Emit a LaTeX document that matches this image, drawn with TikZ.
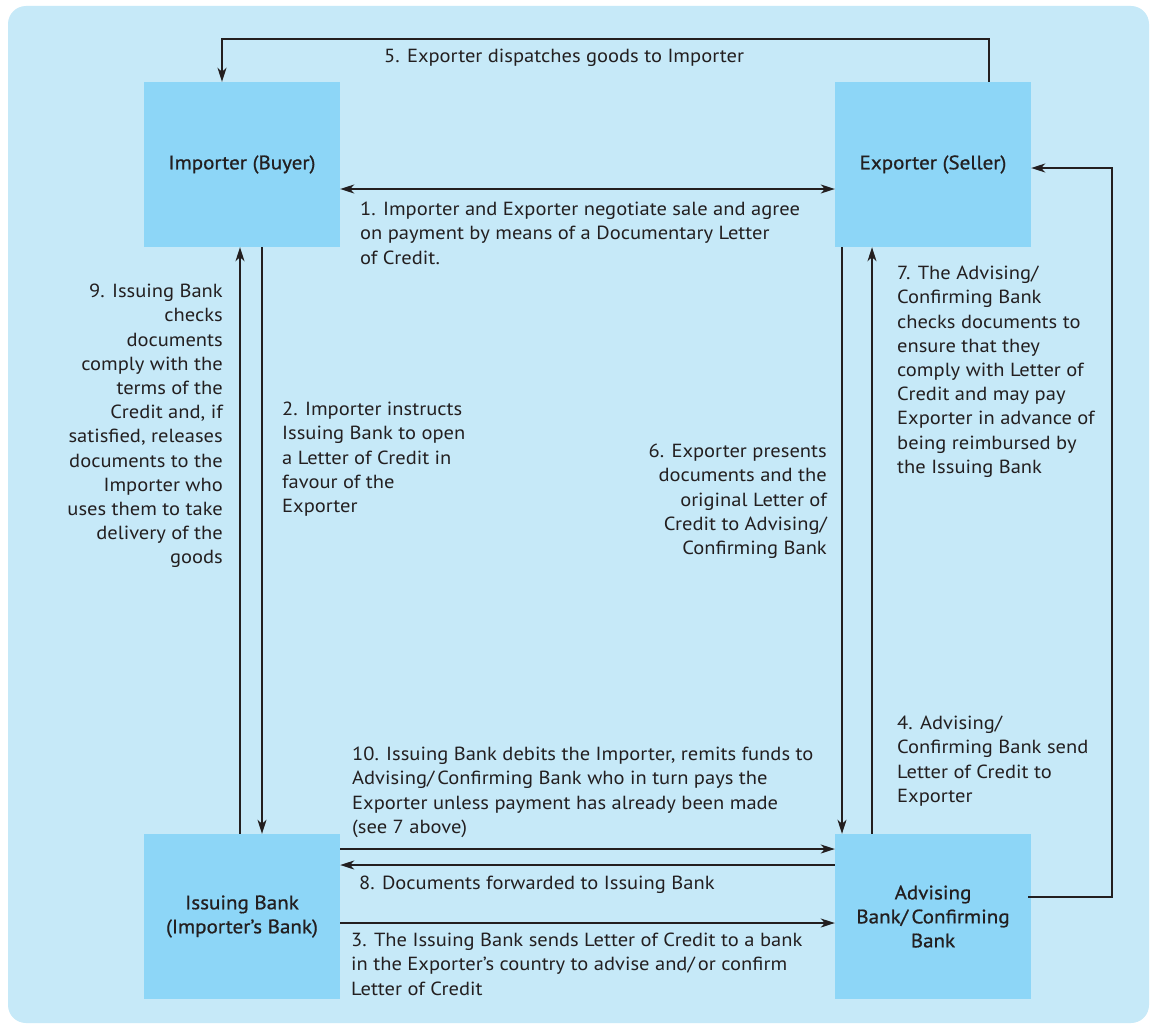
\documentclass[tikz,border=0pt]{standalone}
\usepackage{fontspec}
\setmainfont{PT Sans}[FakeStretch=1.08]
\newfontfamily\boxfont{PT Sans}[FakeStretch=1.08,FakeBold=0.8]
\usetikzlibrary{arrows.meta}
\definecolor{bgblue}{HTML}{C6E9F8}
\definecolor{boxblue}{HTML}{8DD6F7}
\definecolor{ink}{HTML}{231F20}
\tikzset{
  box/.style={fill=boxblue, minimum width=196pt, minimum height=165pt, inner sep=0pt,
    align=center, text=ink, font=\boxfont\fontsize{19.5}{24}\selectfont},
  lbl/.style={inner sep=0pt, text=ink, font=\fontsize{19}{24.2}\selectfont},
  lblL/.style={lbl, align=left, anchor=north west},
  lblR/.style={lbl, align=right, anchor=north east},
  conn/.style={draw=ink, line width=1.4pt, -{Stealth[length=14pt,width=9pt,inset=4pt]}},
  conn2/.style={draw=ink, line width=1.4pt, {Stealth[length=14pt,width=9pt,inset=4pt]}-{Stealth[length=14pt,width=9pt,inset=4pt]}}
}
\begin{document}
\begin{tikzpicture}[x=1pt,y=-1pt]
\useasboundingbox (0,0) rectangle (1151,1025);
\fill[white] (0,0) rectangle (1151,1025);
\fill[bgblue, rounded corners=18pt] (8,6) rectangle (1149,1023);

\node[box] (imp) at (242,164.5) {Importer (Buyer)};
\node[box] (exp) at (933,164.5) {Exporter (Seller)};
\node[box] (iss) at (242,916.5) {Issuing Bank\\(Importer’s Bank)};
\node[box] (adv) at (933,916.5) {Advising\\Bank/\,Confirming\\Bank};

% coordinates for connector routing
\coordinate (p5a) at (989,39);
\coordinate (p5b) at (222,39);
\coordinate (y1) at (0,189);
\coordinate (x2) at (262,0);
\coordinate (x9) at (240,0);
\coordinate (x6) at (842,0);
\coordinate (x7) at (872,0);
\coordinate (y10) at (0,849);
\coordinate (y8) at (0,865);
\coordinate (y3) at (0,923);
\coordinate (p4a) at (1112,897);
\coordinate (p4b) at (1112,168);

\draw[conn] (exp.north -| p5a) -- (p5a) -- (p5b) -- (imp.north -| p5b);
\draw[conn2] (imp.east |- y1) -- (exp.west |- y1);
\draw[conn] (imp.south -| x2) -- (iss.north -| x2);
\draw[conn] (iss.north -| x9) -- (imp.south -| x9);
\draw[conn] (exp.south -| x6) -- (adv.north -| x6);
\draw[conn] (adv.north -| x7) -- (exp.south -| x7);
\draw[conn] (iss.east |- y10) -- (adv.west |- y10);
\draw[conn] (adv.west |- y8) -- (iss.east |- y8);
\draw[conn] (iss.east |- y3) -- (adv.west |- y3);
\draw[conn] ([xshift=-3pt]adv.east |- p4a) -- (p4a) -- (p4b) -- (exp.east |- p4b);

\node[lblL] (l5) at (384,49) {5. Exporter dispatches goods to Importer};
\node[lblL] (l1) at (360,202) {1. Importer and Exporter negotiate sale and agree\\on payment by means of a Documentary Letter\\of Credit.};
\node[lblL] (l2) at (282,402) {2. Importer instructs\\Issuing Bank to open\\a Letter of Credit in\\favour of the\\Exporter};
\node[lblR] (l9) at (223,284) {9. Issuing Bank\\checks\\documents\\comply with the\\terms of the\\Credit and, if\\satisfied, releases\\documents to the\\Importer who\\uses them to take\\delivery of the\\goods};
\node[lblR] (l6) at (827,444) {6. Exporter presents\\documents and the\\original Letter of\\Credit to Advising/\\Confirming Bank};
\node[lblL] (l7) at (897,266) {7. The Advising/\\Confirming Bank\\checks documents to\\ensure that they\\comply with Letter of\\Credit and may pay\\Exporter in advance of\\being reimbursed by\\the Issuing Bank};
\node[lblL] (l4) at (897,716) {4. Advising/\\Confirming Bank send\\Letter of Credit to\\Exporter};
\node[lblL] (l10) at (352,747) {10. Issuing Bank debits the Importer, remits funds to\\Advising/\,Confirming Bank who in turn pays the\\Exporter unless payment has already been made\\(see 7 above)};
\node[lblL] (l8) at (359,876) {8. Documents forwarded to Issuing Bank};
\node[lblL] (l3) at (351,933) {3. The Issuing Bank sends Letter of Credit to a bank\\in the Exporter’s country to advise and/\,or confirm\\Letter of Credit};
\end{tikzpicture}
\end{document}
